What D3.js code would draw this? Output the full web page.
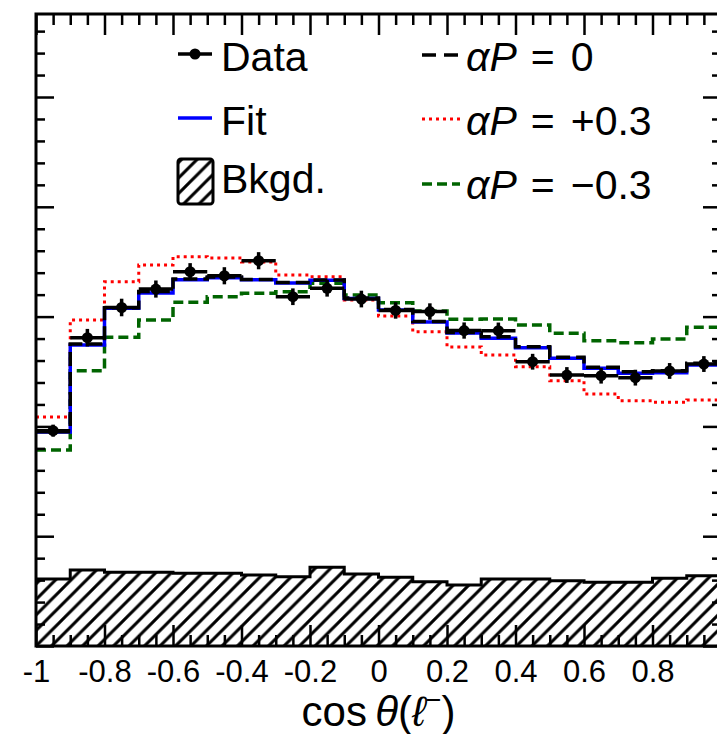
<!DOCTYPE html>
<html>
<head>
<meta charset="utf-8">
<script src="https://cdn.jsdelivr.net/npm/d3@7"></script>
<style>
body { margin: 0; background: #fff; }
text { font-family: "Liberation Sans", Arial, Helvetica, sans-serif; fill: #000; }
</style>
</head>
<body>
<script>
// bin edges of cos(theta) histogram
var binEdges = [-1, -0.9, -0.8, -0.7, -0.6, -0.5, -0.4, -0.3, -0.2, -0.1, 0,
                0.1, 0.2, 0.3, 0.4, 0.5, 0.6, 0.7, 0.8, 0.9, 1];
// data points (arbitrary y units) and their errors
var dataVals = [1.961, 2.808, 3.083, 3.251, 3.409, 3.372, 3.509, 3.181, 3.258, 3.160,
                3.056, 3.046, 2.873, 2.872, 2.589, 2.468, 2.462, 2.444, 2.505, 2.568];
var dataErrs = [0.055, 0.080, 0.080, 0.078, 0.078, 0.078, 0.078, 0.076, 0.076, 0.076,
                0.075, 0.075, 0.074, 0.074, 0.072, 0.072, 0.072, 0.072, 0.072, 0.072];
// fit result
var fitVals = [1.950, 2.741, 3.075, 3.215, 3.335, 3.355, 3.335, 3.305, 3.330, 3.165,
               3.060, 2.950, 2.850, 2.802, 2.717, 2.620, 2.529, 2.484, 2.489, 2.559];
// templates for alpha*P = 0, +0.3, -0.3
var ap0Vals = [1.952, 2.750, 3.081, 3.229, 3.342, 3.361, 3.338, 3.311, 3.333, 3.169,
               3.065, 2.955, 2.855, 2.817, 2.726, 2.629, 2.538, 2.498, 2.507, 2.575];
var apPlusVals = [2.086, 2.969, 3.318, 3.470, 3.546, 3.534, 3.497, 3.379, 3.363, 3.151,
                  3.005, 2.862, 2.723, 2.650, 2.544, 2.416, 2.295, 2.234, 2.219, 2.240];
var apMinusVals = [1.785, 2.507, 2.811, 2.969, 3.130, 3.181, 3.212, 3.227, 3.303, 3.197,
                   3.127, 3.051, 2.975, 2.978, 2.923, 2.848, 2.781, 2.762, 2.796, 2.903];
// background
var bkgVals = [0.610, 0.692, 0.671, 0.671, 0.662, 0.662, 0.647, 0.631, 0.717, 0.656,
               0.626, 0.586, 0.556, 0.610, 0.610, 0.595, 0.580, 0.580, 0.617, 0.640];
// axis ticks
var xMajor = [-1, -0.8, -0.6, -0.4, -0.2, 0, 0.2, 0.4, 0.6, 0.8, 1];
var xLabels = [-1, -0.8, -0.6, -0.4, -0.2, 0, 0.2, 0.4, 0.6, 0.8];
var yMax = 5.756;

var width = 717, height = 734;
var padL = 36, padR = 721, padT = 14, padB = 646;

var svg = d3.select("body").append("svg")
    .attr("width", width)
    .attr("height", height);

var x = d3.scaleLinear().domain([-1, 1]).range([padL, padR]);
var y = d3.scaleLinear().domain([0, yMax]).range([padB, padT]);

//hatch pattern for background
var hs = 15.5;
var defs = svg.append("defs");
var pat = defs.append("pattern")
    .attr("id", "hatch")
    .attr("patternUnits", "userSpaceOnUse")
    .attr("width", hs).attr("height", hs);
pat.append("path")
    .attr("d", "M-2,2 L2,-2 M0," + hs + " L" + hs + ",0 M" + (hs - 2) + "," + (hs + 2) + " L" + (hs + 2) + "," + (hs - 2))
    .attr("stroke", "#000")
    .attr("stroke-width", 3);

//turn values into step path points
function steps(vals){
    var pts = [];
    vals.forEach(function(v, i){
        pts.push([binEdges[i], v]);
        pts.push([binEdges[i + 1], v]);
    });
    return pts;
}

var line = d3.line()
    .x(function(d){ return x(d[0]); })
    .y(function(d){ return y(d[1]); });

var area = d3.area()
    .x(function(d){ return x(d[0]); })
    .y0(y(0))
    .y1(function(d){ return y(d[1]); });

var plot = svg.append("g");

//background
plot.append("path")
    .datum(steps(bkgVals))
    .attr("d", area)
    .attr("fill", "url(#hatch)");
plot.append("path")
    .datum(steps(bkgVals))
    .attr("d", line)
    .attr("fill", "none")
    .attr("stroke", "#000")
    .attr("stroke-width", 3);

//templates
plot.append("path")
    .datum(steps(apPlusVals))
    .attr("d", line)
    .attr("fill", "none")
    .attr("stroke", "#ff0000")
    .attr("stroke-width", 3)
    .attr("stroke-dasharray", "3,4");
plot.append("path")
    .datum(steps(apMinusVals))
    .attr("d", line)
    .attr("fill", "none")
    .attr("stroke", "#006400")
    .attr("stroke-width", 3.5)
    .attr("stroke-dasharray", "10,5");
plot.append("path")
    .datum(steps(fitVals))
    .attr("d", line)
    .attr("fill", "none")
    .attr("stroke", "#0000ff")
    .attr("stroke-width", 3.5);
plot.append("path")
    .datum(steps(ap0Vals))
    .attr("d", line)
    .attr("fill", "none")
    .attr("stroke", "#000")
    .attr("stroke-width", 3.5)
    .attr("stroke-dasharray", "14,6");

//data points with error bars
var pts = plot.selectAll(".pt")
    .data(dataVals)
    .enter()
    .append("g")
    .attr("class", "pt");
pts.append("line")
    .attr("x1", function(d, i){ return x(binEdges[i]); })
    .attr("x2", function(d, i){ return x(binEdges[i + 1]); })
    .attr("y1", function(d){ return y(d); })
    .attr("y2", function(d){ return y(d); })
    .attr("stroke", "#000")
    .attr("stroke-width", 3.5);
pts.append("line")
    .attr("x1", function(d, i){ return x((binEdges[i] + binEdges[i + 1]) / 2); })
    .attr("x2", function(d, i){ return x((binEdges[i] + binEdges[i + 1]) / 2); })
    .attr("y1", function(d, i){ return y(d - dataErrs[i]); })
    .attr("y2", function(d, i){ return y(d + dataErrs[i]); })
    .attr("stroke", "#000")
    .attr("stroke-width", 3.5);
pts.append("circle")
    .attr("cx", function(d, i){ return x((binEdges[i] + binEdges[i + 1]) / 2); })
    .attr("cy", function(d){ return y(d); })
    .attr("r", 5.5)
    .attr("fill", "#000");

//axes with inward ticks
function fmt(d){ return String(Math.round(d * 10) / 10); }
var xMinor = d3.range(-1, 1.0001, 0.05).filter(function(v){
    return Math.abs(Math.round(v * 5) - v * 5) > 1e-6;
});

var gB = svg.append("g").attr("transform", "translate(0," + padB + ")");
gB.call(d3.axisBottom(x).tickValues(xMajor).tickSize(-21).tickPadding(14)
    .tickFormat(function(d){ return xLabels.indexOf(d) >= 0 ? fmt(d) : ""; }));
gB.append("g").call(d3.axisBottom(x).tickValues(xMinor).tickSize(-11).tickFormat(""));

var gT = svg.append("g").attr("transform", "translate(0," + padT + ")");
gT.call(d3.axisTop(x).tickValues(xMajor).tickSize(-21).tickFormat(""));
gT.append("g").call(d3.axisTop(x).tickValues(xMinor).tickSize(-11).tickFormat(""));

var yMajorT = d3.range(0, yMax, 1);
var yMinorT = d3.range(0, yMax, 0.2).filter(function(v){
    return Math.abs(Math.round(v) - v) > 1e-6;
});
var gL = svg.append("g").attr("transform", "translate(" + padL + ",0)");
gL.call(d3.axisLeft(y).tickValues(yMajorT).tickSize(-18).tickFormat(""));
gL.append("g").call(d3.axisLeft(y).tickValues(yMinorT).tickSize(-9).tickFormat(""));

var gR = svg.append("g").attr("transform", "translate(" + padR + ",0)");
gR.call(d3.axisRight(y).tickValues(yMajorT).tickSize(-18).tickFormat(""));
gR.append("g").call(d3.axisRight(y).tickValues(yMinorT).tickSize(-9).tickFormat(""));

svg.selectAll(".domain").remove();
svg.selectAll(".tick line").attr("stroke", "#000").attr("stroke-width", 2.5);
gB.selectAll(".tick text")
    .style("font-family", "'Liberation Sans', Arial, sans-serif")
    .style("font-size", "31px")
    .attr("fill", "#000");

//frame
svg.append("rect")
    .attr("x", padL).attr("y", padT)
    .attr("width", padR - padL).attr("height", padB - padT)
    .attr("fill", "none")
    .attr("stroke", "#000")
    .attr("stroke-width", 3);

//axis title
var title = svg.append("text")
    .attr("x", x(0))
    .attr("y", 726)
    .attr("text-anchor", "middle")
    .style("font-size", "42px");
title.append("tspan").text("cos\u2009");
title.append("tspan").style("font-style", "italic").text("\u03b8");
title.append("tspan").text("(");
title.append("tspan").style("font-style", "italic").text("\u2113");
title.append("tspan").attr("dy", -17).style("font-size", "27px").text("\u2212");
title.append("tspan").attr("dy", 17).text(")");

//legend
var leg = svg.append("g");
leg.append("line").attr("x1", 178).attr("x2", 212).attr("y1", 54).attr("y2", 54)
    .attr("stroke", "#000").attr("stroke-width", 3.5);
leg.append("circle").attr("cx", 195).attr("cy", 54).attr("r", 5.5).attr("fill", "#000");
leg.append("line").attr("x1", 178).attr("x2", 212).attr("y1", 118).attr("y2", 118)
    .attr("stroke", "#0000ff").attr("stroke-width", 3.5);
leg.append("rect").attr("x", 178).attr("y", 159).attr("width", 35).attr("height", 45)
    .attr("rx", 3).attr("fill", "url(#hatch)")
    .attr("stroke", "#000").attr("stroke-width", 3);

leg.append("line").attr("x1", 422).attr("x2", 460).attr("y1", 55).attr("y2", 55)
    .attr("stroke", "#000").attr("stroke-width", 3.5).attr("stroke-dasharray", "14,8");
leg.append("line").attr("x1", 422).attr("x2", 460).attr("y1", 119).attr("y2", 119)
    .attr("stroke", "#ff0000").attr("stroke-width", 3).attr("stroke-dasharray", "3,4");
leg.append("line").attr("x1", 422).attr("x2", 460).attr("y1", 184).attr("y2", 184)
    .attr("stroke", "#006400").attr("stroke-width", 3.5).attr("stroke-dasharray", "10,5");

var legLeft = ["Data", "Fit", "Bkgd."];
var legLeftY = [71, 135, 193];
legLeft.forEach(function(t, i){
    leg.append("text").attr("x", 221).attr("y", legLeftY[i])
        .style("font-size", "41px").text(t);
});

var legRight = ["0", "+0.3", "\u22120.3"];
var legRightY = [71, 135, 199];
legRight.forEach(function(t, i){
    var tx = leg.append("text").attr("x", 466).attr("y", legRightY[i])
        .style("font-size", "41px");
    tx.append("tspan").style("font-style", "italic").text("\u03b1P");
    tx.append("tspan").attr("dx", 14).text("=");
    tx.append("tspan").attr("dx", 16).text(t);
});
</script>
</body>
</html>
